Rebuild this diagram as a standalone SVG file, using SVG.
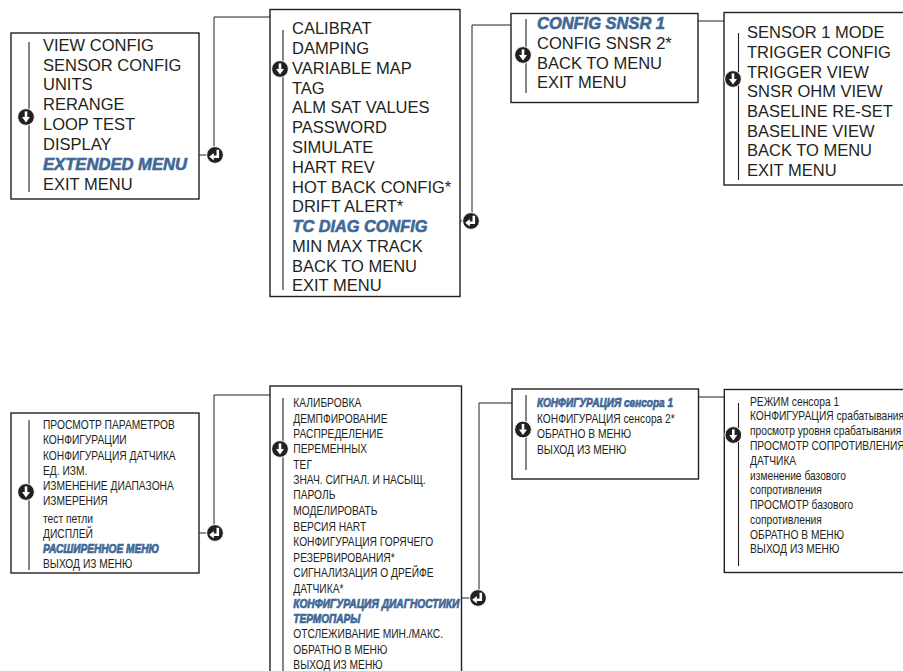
<svg xmlns="http://www.w3.org/2000/svg" width="903" height="671" viewBox="0 0 903 671">
  <defs>
    <style>
      .box { fill: #ffffff; stroke: #231f20; stroke-width: 1.4; }
      .rail { stroke: #231f20; stroke-width: 1.1; fill: none; }
      .wire { stroke: #231f20; stroke-width: 1; fill: none; }
      .t { font-family: "Liberation Sans", Arial, sans-serif; font-size: 16.5px; fill: #231f20; }
      .hl { font-family: "Liberation Sans", Arial, sans-serif; font-size: 16.5px; font-weight: bold; font-style: italic; fill: #3f6896; stroke: #3f6896; stroke-width: 0.6; }
      .r { font-family: "Liberation Sans", Arial, sans-serif; font-size: 12.2px; fill: #231f20; }
      .rh { font-family: "Liberation Sans", Arial, sans-serif; font-size: 12px; font-weight: bold; font-style: italic; fill: #3f6896; stroke: #3f6896; stroke-width: 0.7; }
      .knob { fill: #231f20; stroke: #ffffff; stroke-width: 1; }
      .glyph { fill: #ffffff; stroke: none; }
    </style>
    <!-- scroll (down arrow) badge -->
    <g id="scroll">
      <circle class="knob" r="8.4"/>
      <rect class="glyph" x="-1.3" y="-5.6" width="2.6" height="5.8"/>
      <path class="glyph" d="M-4,0 L4,0 L0,5.6 Z"/>
    </g>
    <!-- enter (return) badge -->
    <g id="enter">
      <circle class="knob" r="8.4"/>
      <path d="M2.8,-5.2 V1.8 H-1.6" stroke="#ffffff" stroke-width="2.6" fill="none"/>
      <path class="glyph" d="M-1.2,-2 L-1.2,5.6 L-5.8,1.8 Z"/>
    </g>
  </defs>

  <!-- connectors -->
  <g id="connectors">
    <path class="wire" d="M199,155 H208"/>
    <path class="wire" d="M214,148 V17 H270"/>
    <path class="wire" d="M460,221 H466"/>
    <path class="wire" d="M472,214 V25 H511"/>
    <path class="wire" d="M698,21 H724"/>
    <path class="wire" d="M199,533 H208"/>
    <path class="wire" d="M214,526 V395 H270"/>
    <path class="wire" d="M461,598 H472"/>
    <path class="wire" d="M479,591 V403 H512"/>
    <path class="wire" d="M698,397 H724"/>
    <use href="#enter" x="215" y="155"/>
    <use href="#enter" x="471" y="221"/>
    <use href="#enter" x="215" y="533"/>
    <use href="#enter" x="478" y="598"/>
  </g>

  <!-- top row: English menus -->
  <g id="main-menu">
    <rect class="box" x="11" y="33" width="188" height="166"/>
    <line class="rail" x1="29" y1="42" x2="29" y2="192"/>
    <use href="#scroll" x="26" y="117"/>
    <text class="t" x="43" y="51">VIEW CONFIG</text>
    <text class="t" x="43" y="70.5">SENSOR CONFIG</text>
    <text class="t" x="43" y="90">UNITS</text>
    <text class="t" x="43" y="110">RERANGE</text>
    <text class="t" x="43" y="130">LOOP TEST</text>
    <text class="t" x="43" y="150">DISPLAY</text>
    <text class="hl" x="43" y="170" textLength="144" lengthAdjust="spacingAndGlyphs">EXTENDED MENU</text>
    <text class="t" x="43" y="190">EXIT MENU</text>
  </g>

  <g id="extended-menu">
    <rect class="box" x="270" y="9.5" width="190" height="287"/>
    <line class="rail" x1="283" y1="30" x2="283" y2="290"/>
    <use href="#scroll" x="280" y="69"/>
    <text class="t" x="292" y="34">CALIBRAT</text>
    <text class="t" x="292" y="54">DAMPING</text>
    <text class="t" x="292" y="73.5">VARIABLE MAP</text>
    <text class="t" x="292" y="93.5">TAG</text>
    <text class="t" x="292" y="113">ALM SAT VALUES</text>
    <text class="t" x="292" y="133">PASSWORD</text>
    <text class="t" x="292" y="153">SIMULATE</text>
    <text class="t" x="292" y="172.5">HART REV</text>
    <text class="t" x="292" y="192.5">HOT BACK CONFIG*</text>
    <text class="t" x="292" y="212">DRIFT ALERT*</text>
    <text class="hl" x="292.5" y="232" textLength="135" lengthAdjust="spacingAndGlyphs">TC DIAG CONFIG</text>
    <text class="t" x="292" y="251.5">MIN MAX TRACK</text>
    <text class="t" x="292" y="271.5">BACK TO MENU</text>
    <text class="t" x="292" y="291">EXIT MENU</text>
  </g>

  <g id="tc-diag-menu">
    <rect class="box" x="511" y="13.5" width="187" height="89"/>
    <line class="rail" x1="526" y1="19" x2="526" y2="93"/>
    <use href="#scroll" x="523" y="55"/>
    <text class="hl" x="537" y="28.6" textLength="128" lengthAdjust="spacingAndGlyphs">CONFIG SNSR 1</text>
    <text class="t" x="537" y="48.6">CONFIG SNSR 2*</text>
    <text class="t" x="537" y="68.6">BACK TO MENU</text>
    <text class="t" x="537" y="87.6">EXIT MENU</text>
  </g>

  <g id="sensor1-menu">
    <rect class="box" x="724" y="12.5" width="190" height="172.5"/>
    <line class="rail" x1="738.5" y1="33" x2="738.5" y2="180"/>
    <use href="#scroll" x="733" y="79"/>
    <text class="t" x="747" y="38.2">SENSOR 1 MODE</text>
    <text class="t" x="747" y="57.9">TRIGGER CONFIG</text>
    <text class="t" x="747" y="77.5">TRIGGER VIEW</text>
    <text class="t" x="747" y="97.2">SNSR OHM VIEW</text>
    <text class="t" x="747" y="116.9">BASELINE RE-SET</text>
    <text class="t" x="747" y="136.5">BASELINE VIEW</text>
    <text class="t" x="747" y="156.2">BACK TO MENU</text>
    <text class="t" x="747" y="175.9">EXIT MENU</text>
  </g>

  <!-- bottom row: Russian menus -->
  <g id="main-menu-ru">
    <rect class="box" x="11" y="413" width="188" height="160"/>
    <line class="rail" x1="29" y1="420" x2="29" y2="570"/>
    <use href="#scroll" x="26" y="492"/>
    <g transform="translate(43,0) scale(0.84,1)">
      <text class="r" x="0" y="429.3">ПРОСМОТР ПАРАМЕТРОВ</text>
      <text class="r" x="0" y="444.3">КОНФИГУРАЦИИ</text>
      <text class="r" x="0" y="460">КОНФИГУРАЦИЯ ДАТЧИКА</text>
      <text class="r" x="0" y="475">ЕД. ИЗМ.</text>
      <text class="r" x="0" y="490.3">ИЗМЕНЕНИЕ ДИАПАЗОНА</text>
      <text class="r" x="0" y="505.3">ИЗМЕРЕНИЯ</text>
      <text class="r" x="0" y="522.6">тест петли</text>
      <text class="r" x="0" y="537.6">ДИСПЛЕЙ</text>
      <text class="r" x="0" y="568.3">ВЫХОД ИЗ МЕНЮ</text>
    </g>
    <text class="rh" x="43" y="553.3" textLength="116" lengthAdjust="spacingAndGlyphs">РАСШИРЕННОЕ МЕНЮ</text>
  </g>

  <g id="extended-menu-ru">
    <rect class="box" x="270" y="386" width="191.5" height="300"/>
    <line class="rail" x1="283" y1="398" x2="283" y2="671"/>
    <use href="#scroll" x="280" y="449"/>
    <g transform="translate(293.3,0) scale(0.84,1)">
      <text class="r" x="0" y="407">КАЛИБРОВКА</text>
      <text class="r" x="0" y="422.6">ДЕМПФИРОВАНИЕ</text>
      <text class="r" x="0" y="437.6">РАСПРЕДЕЛЕНИЕ</text>
      <text class="r" x="0" y="453.3">ПЕРЕМЕННЫХ</text>
      <text class="r" x="0" y="469.3">ТЕГ</text>
      <text class="r" x="0" y="484.3">ЗНАЧ. СИГНАЛ. И НАСЫЩ.</text>
      <text class="r" x="0" y="499.3">ПАРОЛЬ</text>
      <text class="r" x="0" y="515">МОДЕЛИРОВАТЬ</text>
      <text class="r" x="0" y="531">ВЕРСИЯ HART</text>
      <text class="r" x="0" y="546">КОНФИГУРАЦИЯ ГОРЯЧЕГО</text>
      <text class="r" x="0" y="561.6">РЕЗЕРВИРОВАНИЯ*</text>
      <text class="r" x="0" y="576.6">СИГНАЛИЗАЦИЯ О ДРЕЙФЕ</text>
      <text class="r" x="0" y="592.6">ДАТЧИКА*</text>
      <text class="r" x="0" y="638.3">ОТСЛЕЖИВАНИЕ МИН./МАКС.</text>
      <text class="r" x="0" y="654.3">ОБРАТНО В МЕНЮ</text>
      <text class="r" x="0" y="669.3">ВЫХОД ИЗ МЕНЮ</text>
    </g>
    <text class="rh" x="293.3" y="607.6" textLength="166" lengthAdjust="spacingAndGlyphs">КОНФИГУРАЦИЯ ДИАГНОСТИКИ</text>
    <text class="rh" x="293.3" y="622.6" textLength="67" lengthAdjust="spacingAndGlyphs">ТЕРМОПАРЫ</text>
  </g>

  <g id="tc-diag-menu-ru">
    <rect class="box" x="512" y="389" width="186.5" height="90"/>
    <line class="rail" x1="526" y1="395" x2="526" y2="470"/>
    <use href="#scroll" x="523" y="429.5"/>
    <text class="rh" x="537" y="407" textLength="136" lengthAdjust="spacingAndGlyphs">КОНФИГУРАЦИЯ сенсора 1</text>
    <g transform="translate(537,0) scale(0.84,1)">
      <text class="r" x="0" y="423">КОНФИГУРАЦИЯ сенсора 2*</text>
      <text class="r" x="0" y="437.6">ОБРАТНО В МЕНЮ</text>
      <text class="r" x="0" y="453.6">ВЫХОД ИЗ МЕНЮ</text>
    </g>
  </g>

  <g id="sensor1-menu-ru">
    <rect class="box" x="724.3" y="389.5" width="190" height="183"/>
    <line class="rail" x1="738.5" y1="403" x2="738.5" y2="566"/>
    <use href="#scroll" x="733.3" y="435"/>
    <g transform="translate(750,0) scale(0.84,1)">
      <text class="r" x="0" y="406">РЕЖИМ сенсора 1</text>
      <text class="r" x="0" y="420.5">КОНФИГУРАЦИЯ срабатывания</text>
      <text class="r" x="0" y="435.3">просмотр уровня срабатывания</text>
      <text class="r" x="0" y="450">ПРОСМОТР СОПРОТИВЛЕНИЯ</text>
      <text class="r" x="0" y="464.8">ДАТЧИКА</text>
      <text class="r" x="0" y="479.6">изменение базового</text>
      <text class="r" x="0" y="494.4">сопротивления</text>
      <text class="r" x="0" y="509.2">ПРОСМОТР базового</text>
      <text class="r" x="0" y="524">сопротивления</text>
      <text class="r" x="0" y="538.7">ОБРАТНО В МЕНЮ</text>
      <text class="r" x="0" y="553.5">ВЫХОД ИЗ МЕНЮ</text>
    </g>
  </g>
</svg>
